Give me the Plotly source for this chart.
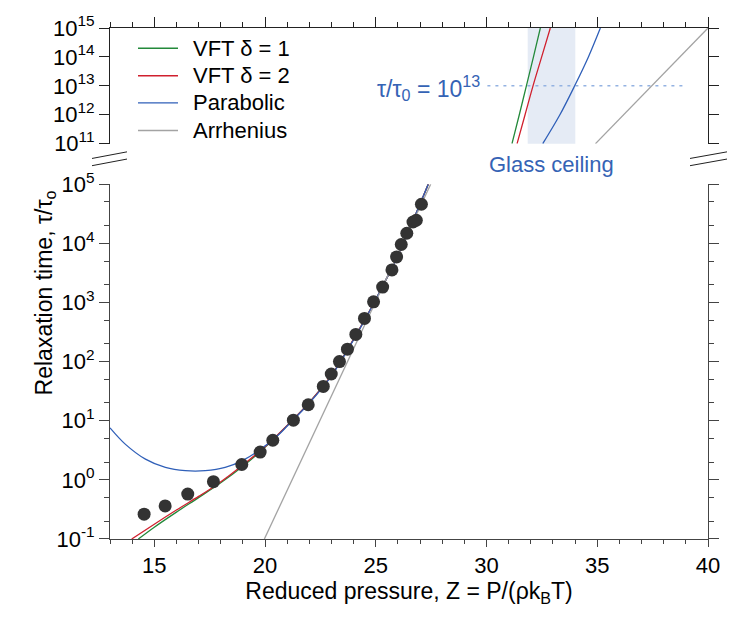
import numpy as np
import plotly.graph_objects as go

# ---------------- data ----------------
# simulation points: reduced pressure Z and log10(tau/tau0)
points_Z = [14.54, 15.49, 16.51, 17.67, 18.95, 19.78, 20.35, 21.28, 21.95, 22.63,
            22.99, 23.36, 23.72, 24.10, 24.49, 24.90, 25.31, 25.73, 25.94, 26.15,
            26.40, 26.68, 26.83, 27.06]
points_log10tau = [-0.58, -0.44, -0.24, -0.03, 0.26, 0.47, 0.67, 1.01, 1.27, 1.58,
                   1.79, 2.00, 2.21, 2.46, 2.73, 3.01, 3.26, 3.55, 3.77, 3.98,
                   4.17, 4.36, 4.39, 4.66]

# fitted curves (Z, log10 tau/tau0)
vft1_Z = [14.28, 15.0, 16.0, 17.0, 18.0, 19.0, 20.0, 21.0, 22.0, 23.0, 24.0, 25.0, 26.0, 27.37,
          31.15, 31.48, 31.80, 32.12, 32.43]
vft1_log10tau = [-1.0, -0.80, -0.545, -0.30, -0.05, 0.23, 0.55, 0.92, 1.31, 1.77, 2.38, 3.05, 3.80, 5.0,
                 11.0, 12.0, 13.0, 14.0, 15.0]

vft2_Z = [13.98, 15.0, 16.0, 17.0, 17.67, 18.3, 19.0, 20.0, 21.0, 22.0, 23.0, 24.0, 25.0, 26.0, 27.37,
          31.38, 31.74, 32.10, 32.49, 32.88]
vft2_log10tau = [-1.0, -0.75, -0.51, -0.28, -0.12, 0.05, 0.25, 0.56, 0.92, 1.31, 1.77, 2.38, 3.05, 3.80, 5.0,
                 11.0, 12.0, 13.0, 14.0, 15.0]

para_Z = [13.0, 13.7, 14.6, 15.5, 16.4, 17.3, 18.2, 19.0, 19.7, 20.6, 21.0, 22.0, 23.0, 24.0, 25.0, 26.0, 27.37,
          32.54, 33.30, 33.98, 34.60, 35.14]
para_log10tau = [0.88, 0.60, 0.35, 0.21, 0.155, 0.155, 0.21, 0.33, 0.49, 0.76, 0.91, 1.30, 1.76, 2.37, 3.05, 3.80, 5.0,
                 11.0, 11.98, 13.0, 14.0, 15.0]

arr_Z = [19.97, 27.48, 34.92, 40.0]
arr_log10tau = [-1.0, 5.0, 11.0, 15.0]

curve_names = ["VFT δ = 1", "VFT δ = 2", "Parabolic", "Arrhenius"]

ceiling_Z = [31.86, 34.01]
ceiling_line_Z = [30.04, 39.07]
ceiling_line_log10tau = [13.0, 13.0]

x_ticks = [15, 20, 25, 30, 35, 40]
bottom_decades = [-1, 0, 1, 2, 3, 4, 5]
top_decades = [11, 12, 13, 14, 15]

# ---------------- styling ----------------
FONT = "Liberation Sans, Arial, Helvetica, sans-serif"
GREEN, RED, BLUE, GREY = "#23893a", "#d0202e", "#2f5fb8", "#a3a3a3"
TXTBLUE = "#3563b5"
AX = "#444444"
TICKFONT = 22

fig = go.Figure()

fig.add_shape(type="rect", xref="x2", yref="y2 domain", x0=ceiling_Z[0], x1=ceiling_Z[1],
              y0=0, y1=1, fillcolor="#e5ebf5", line=dict(width=0), layer="below")

fig.add_trace(go.Scatter(x=ceiling_line_Z, y=10.0 ** np.array(ceiling_line_log10tau), mode="lines",
                         line=dict(color="#93b2e2", width=1.5, dash="3px,5px"),
                         showlegend=False, hoverinfo="skip", xaxis="x2", yaxis="y2"))

curves = [(curve_names[0], vft1_Z, vft1_log10tau, GREEN),
          (curve_names[1], vft2_Z, vft2_log10tau, RED),
          (curve_names[2], para_Z, para_log10tau, BLUE),
          (curve_names[3], arr_Z, arr_log10tau, GREY)]

for name, Z, L, color in curves:
    Z = np.array(Z)
    L = np.array(L)
    b = L <= 5.0
    t = L >= 11.0
    fig.add_trace(go.Scatter(x=Z[b], y=10.0 ** L[b], mode="lines", name=name, legendgroup=name,
                             showlegend=False,
                             line=dict(color=color, width=1.3, shape="spline"),
                             xaxis="x", yaxis="y"))
    fig.add_trace(go.Scatter(x=Z[t], y=10.0 ** L[t], mode="lines", name=name, legendgroup=name,
                             showlegend=False,
                             line=dict(color=color, width=1.3, shape="spline"),
                             xaxis="x2", yaxis="y2"))

fig.add_trace(go.Scatter(x=points_Z, y=10.0 ** np.array(points_log10tau), mode="markers",
                         marker=dict(size=13, color="#333333", line=dict(width=0)),
                         showlegend=False, name="data", xaxis="x", yaxis="y"))

# pixel helpers for layout placement (plot area: x 110..708, y 22..539)
def px(xp):
    return (xp - 110) / 598.0

def py(yp):
    return (539 - yp) / 517.0

def sup(d):
    return "10<sup>%d</sup>" % d

bottom_minor = [m * 10.0 ** d for d in range(-1, 5) for m in (2, 5)]

fig.update_layout(
    width=750, height=630,
    margin=dict(l=110, r=42, t=22, b=91),
    paper_bgcolor="white", plot_bgcolor="white",
    font=dict(family=FONT, size=TICKFONT, color="black"),
    showlegend=False,
    xaxis=dict(domain=[0, 1], anchor="y", range=[13, 40], tick0=0, dtick=5,
               ticks="outside", ticklen=7, tickwidth=1, tickcolor=AX,
               showline=True, linecolor=AX, linewidth=1, showgrid=False, zeroline=False,
               minor=dict(dtick=1, ticks="outside", ticklen=4, tickcolor=AX, showgrid=False),
               tickfont=dict(size=TICKFONT),
               title=dict(text="Reduced pressure, Z = P/(ρk<sub>B</sub>T)", font=dict(size=23), standoff=3)),
    xaxis2=dict(domain=[0, 1], anchor="y2", matches="x", side="top", range=[13, 40],
                tick0=0, dtick=5, showticklabels=False,
                ticks="outside", ticklen=10, tickwidth=1, tickcolor="#222",
                showline=True, linecolor="#222", linewidth=1, showgrid=False, zeroline=False,
                minor=dict(dtick=1, ticks="outside", ticklen=5, tickcolor="#222", showgrid=False)),
    yaxis=dict(domain=[0, py(180)], anchor="x", type="log", range=[-1, 5],
               tickmode="array", tickvals=[10.0 ** d for d in bottom_decades],
               ticktext=[sup(d) for d in bottom_decades],
               ticks="outside", ticklen=10, tickwidth=1, tickcolor=AX,
               showline=True, linecolor=AX, linewidth=1, mirror="ticks",
               showgrid=False, zeroline=False,
               minor=dict(tickmode="array", tickvals=bottom_minor, ticks="outside", ticklen=5,
                          tickcolor=AX, showgrid=False),
               tickfont=dict(size=TICKFONT)),
    yaxis2=dict(domain=[py(139), 1], anchor="x2", type="log", range=[11, 15],
                tickmode="array", tickvals=[10.0 ** d for d in top_decades],
                ticktext=[sup(d) for d in top_decades],
                ticks="outside", ticklen=10, tickwidth=1, tickcolor="#222",
                showline=True, linecolor="#222", linewidth=1, mirror="ticks",
                showgrid=False, zeroline=False, tickfont=dict(size=TICKFONT)),
)

# axis-break marks
for x0, x1 in [(92, 127), (690, 727)]:
    for dy in (0, 7.3):
        fig.add_shape(type="line", xref="paper", yref="paper",
                      x0=px(x0), x1=px(x1), y0=py(154 + dy), y1=py(147.3 + dy),
                      line=dict(color="#222", width=1))

# legend (drawn as line samples + text)
legend_rows_y = [42.5, 70.3, 97.8, 125.7]
for (name, _, _, color), yrow in zip(curves, legend_rows_y):
    fig.add_shape(type="line", xref="paper", yref="paper",
                  x0=px(138), x1=px(178), y0=py(yrow), y1=py(yrow),
                  line=dict(color=color, width=1.3))
    fig.add_annotation(text=name, xref="paper", yref="paper", x=px(191), y=py(yrow),
                       xanchor="left", yanchor="middle", showarrow=False,
                       font=dict(size=22, color="black"))

fig.add_annotation(text="Relaxation time, τ/τ<sub>o</sub>", textangle=-90,
                   xref="paper", yref="paper", x=px(29), y=py(290),
                   showarrow=False, font=dict(size=23))
fig.add_annotation(text="τ/τ<sub>0</sub> = 10<sup>13</sup>", xref="x2", yref="y2",
                   x=29.78, y=13.0, xanchor="right", yanchor="middle", yshift=-2,
                   showarrow=False, font=dict(size=23, color=TXTBLUE))
fig.add_annotation(text="Glass ceiling", xref="x2", yref="paper",
                   x=32.93, y=py(160), xanchor="center", yanchor="middle",
                   showarrow=False, font=dict(size=22, color=TXTBLUE))

fig.write_html("out.html")
